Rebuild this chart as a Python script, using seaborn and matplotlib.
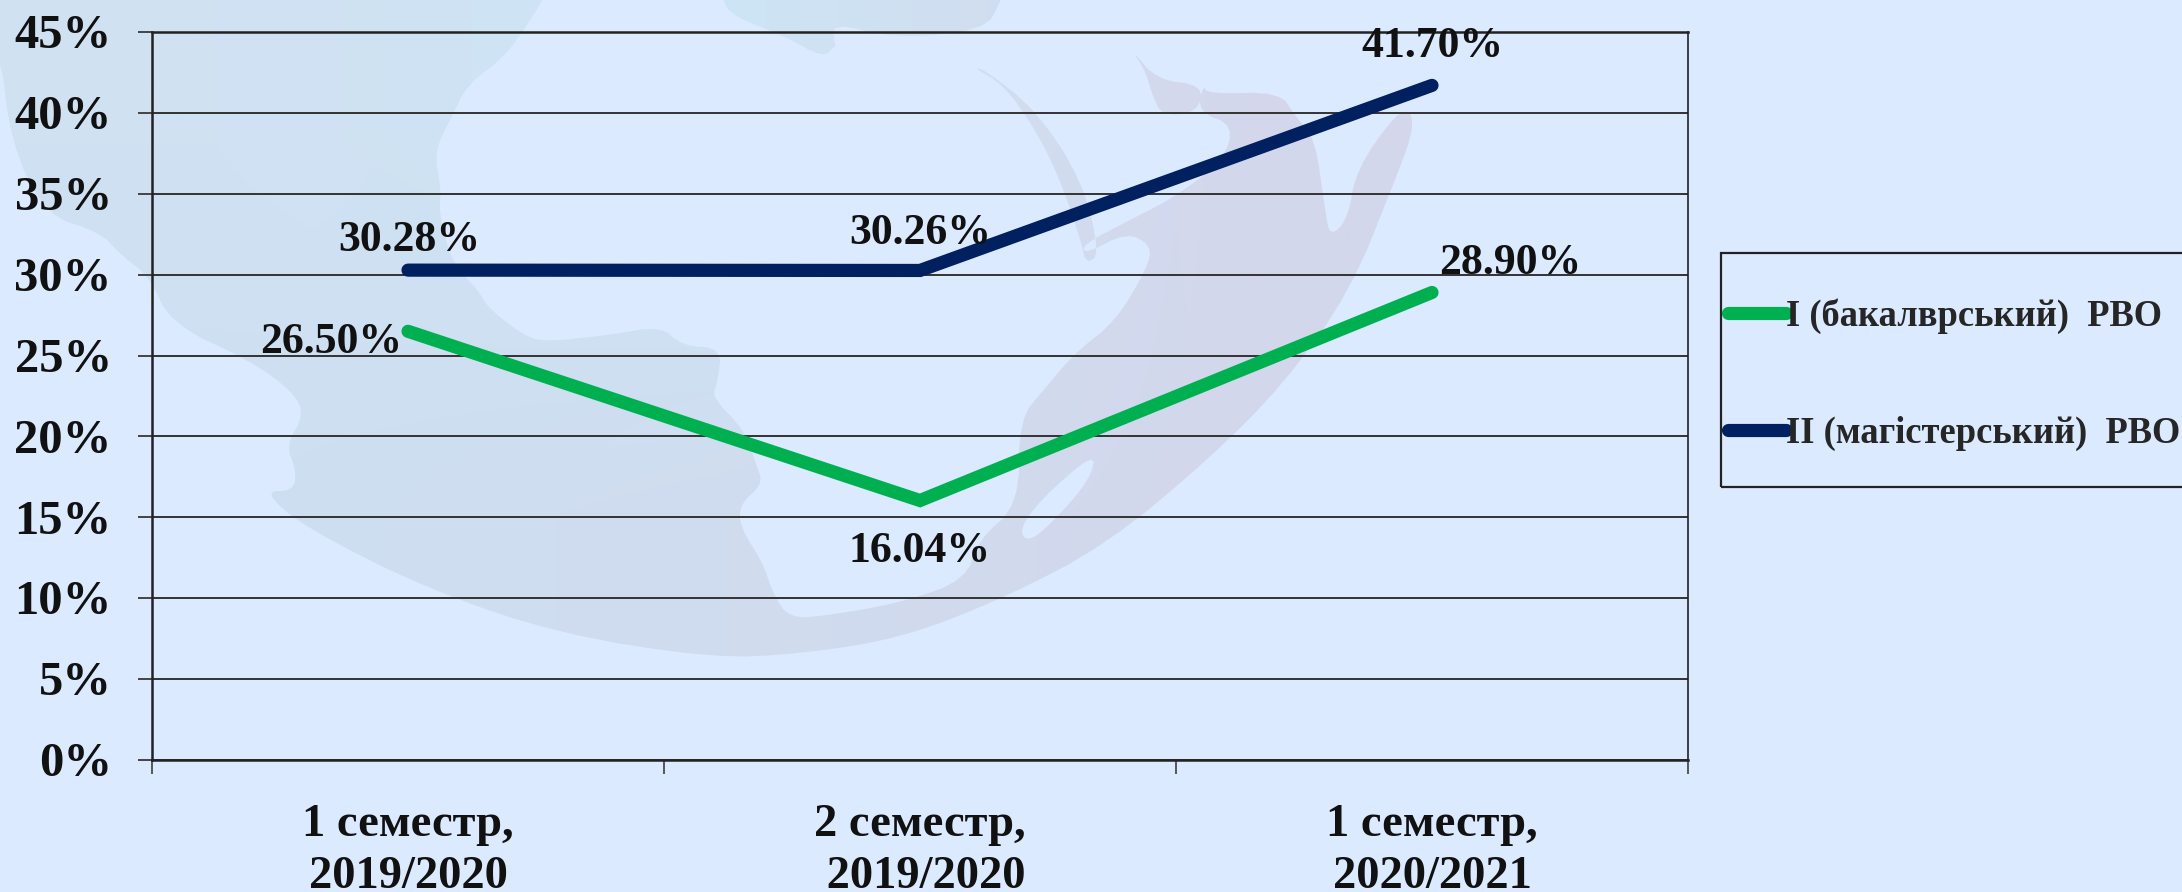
import matplotlib
matplotlib.use("Agg")
import matplotlib.pyplot as plt
import numpy as np
import pandas as pd
import seaborn as sns
from matplotlib.colors import to_rgb
from matplotlib.patches import PathPatch, Rectangle
from matplotlib.path import Path
from matplotlib.transforms import ScaledTranslation

# --- dane ---
SEMESTERS = ["1 семестр,\n2019/2020", "2 семестр,\n 2019/2020", "1 семестр,\n2020/2021"]
BACHELOR = [26.50, 16.04, 28.90]
MASTER = [30.28, 30.26, 41.70]
BACHELOR_NAME = "I (бакалврський)  РВО"
MASTER_NAME = "II (магістерський)  РВО"
Y_TICKS = [0, 5, 10, 15, 20, 25, 30, 35, 40, 45]

W, H = 2182, 892
BG = "#DBEAFE"
GREEN = "#00B050"
NAVY = "#002060"
LW = 9.5

# --- tlo: zarys globusa w pikselach obrazu ---
LAND = [
    (-40, -40), (560, -40), (543, 0), (523, 31), (503, 58), (467, 85), (452, 116), (434, 152), (441, 188), (439, 214),
    (452, 263), (478, 290), (488, 308), (523, 335), (544, 342), (610, 335), (661, 326), (682, 346),
    (722, 348), (717, 384), (712, 397), (745, 431), (756, 464), (763, 484), (740, 504), (740, 527),
    (763, 563), (773, 594), (789, 618), (824, 616), (900, 603), (966, 580), (978, 540), (1019, 505),
    (1019, 420), (1045, 388), (1076, 352), (1116, 321), (1147, 268), (1152, 246), (1127, 232),
    (1086, 254), (1082, 245), (1132, 219), (1167, 201), (1188, 187), (1223, 161), (1234, 125),
    (1198, 112), (1203, 85), (1208, 94), (1280, 92), (1295, 116), (1315, 138), (1325, 210),
    (1330, 237), (1348, 219), (1356, 170), (1397, 112), (1412, 112), (1412, 135), (1395, 180),
    (1351, 290), (1284, 384), (1208, 460), (1106, 545), (1004, 598), (902, 638), (800, 654),
    (712, 658), (559, 634), (427, 589), (304, 527), (263, 491), (294, 491), (296, 469), (286, 446),
    (304, 415), (294, 393), (253, 362), (171, 324), (150, 277), (120, 254), (100, 232), (45, 215),
    (10, 140), (0, 45), (-40, 20),
]
NORTH = [
    (715, -40), (722, 0), (733, 16), (784, 36), (824, 58), (835, 45), (836, 49), (831, 22), (892, 38), (984, 31),
    (1002, 0), (1012, -40),
]
RED_SEA = [
    (973, 67), (1004, 85), (1035, 129), (1060, 179), (1081, 241), (1086, 264), (1100, 254), (1082, 180),
    (1036, 110), (985, 70),
]
GULF = [
    (1131, 49), (1157, 80), (1203, 85), (1198, 112), (1162, 116), (1152, 94), (1145, 70),
]
MADAGASCAR = [(1096, 451), (1040, 500), (1019, 530), (1028, 542), (1050, 525), (1090, 480)]


def smooth(points, rounds=2):
    # zaokraglanie konturu (Chaikin)
    pts = np.array(points, dtype=float)
    for _ in range(rounds):
        nxt = np.roll(pts, -1, axis=0)
        pts = np.column_stack([0.75 * pts + 0.25 * nxt, 0.25 * pts + 0.75 * nxt]).reshape(-1, 2)
    return np.vstack([pts, pts[0]])


sns.set_theme(style="white")
plt.rcParams["font.family"] = ["Liberation Serif", "DejaVu Serif"]
plt.rcParams["font.weight"] = "bold"

df = pd.DataFrame({
    "pos": [0, 1, 2] * 2,
    "val": BACHELOR + MASTER,
    "level": [BACHELOR_NAME] * 3 + [MASTER_NAME] * 3,
})

fig = plt.figure(figsize=(W / 100, H / 100), dpi=100, facecolor=BG)

# tlo
bg = fig.add_axes([0, 0, 1, 1], zorder=-1)
bg.axis("off")
shade = np.array([
    [to_rgb("#D0E1F2"), to_rgb("#CDE5F5"), to_rgb("#D4D7EC")],
    [to_rgb("#CDDFF2"), to_rgb("#D0DCEF"), to_rgb("#D3D7EC")],
])
img = bg.imshow(shade, extent=(-40, 1500, 700, -40), interpolation="bilinear", aspect="auto")
paths = [Path(smooth(p), closed=True) for p in (LAND, NORTH, RED_SEA, GULF)]
clip = PathPatch(Path.make_compound_path(*paths), transform=bg.transData, fc="none", ec="none")
bg.add_patch(clip)
img.set_clip_path(clip)
bg.fill(*smooth(MADAGASCAR).T, color=BG, lw=0)
bg.set_xlim(0, W)
bg.set_ylim(H, 0)

ax = fig.add_axes([152 / W, 1 - 760 / H, (1688 - 152) / W, (760 - 32) / H])
ax.patch.set_alpha(0)

sns.lineplot(
    data=df, x="pos", y="val", hue="level",
    palette={BACHELOR_NAME: GREEN, MASTER_NAME: NAVY},
    linewidth=LW, ax=ax, legend=False,
    solid_capstyle="round", solid_joinstyle="miter", zorder=3,
)

ax.set_xlim(-0.5, 2.5)
ax.set_ylim(0, 45)
ax.set_xlabel("")
ax.set_ylabel("")
ax.set_yticks(Y_TICKS)
ax.set_yticklabels([f"{v}%" for v in Y_TICKS], fontsize=35, color="#111111", va="center")
ax.set_xticks([-0.5, 0.5, 1.5, 2.5])
ax.set_xticklabels([])
ax.grid(axis="y", color="#333333", linewidth=1.4)
ax.set_axisbelow(True)
ax.tick_params(axis="y", length=10, width=1.4, color="#444444", pad=19, left=True)
ax.tick_params(axis="x", length=10, width=1.4, color="#555555", bottom=True)
shift = ScaledTranslation(0, -3 / 72, fig.dpi_scale_trans)
for t in ax.get_yticklabels():
    t.set_transform(t.get_transform() + shift)
for s in ax.spines.values():
    s.set_color("#222222")
    s.set_linewidth(1.8)
ax.spines["right"].set_linewidth(1.2)

# podpisy semestrow
for i, lab in enumerate(SEMESTERS):
    ax.annotate(lab, (i, 0), xytext=(0, -32), textcoords="offset points",
                ha="center", va="top", fontsize=33.5, color="#111111", linespacing=1.29,
                annotation_clip=False)

# etykiety wartosci
labels = [
    (BACHELOR[0], 0, (-4, -8), "right"), (BACHELOR[1], 1, (0, -36), "center"), (BACHELOR[2], 2, (5, 21), "left"),
    (MASTER[0], 0, (1, 22), "center"), (MASTER[1], 1, (0, 27), "center"), (MASTER[2], 2, (0, 28), "center"),
]
for val, i, off, ha in labels:
    ax.annotate(f"{val:.2f}%", (i, val), xytext=off, textcoords="offset points",
                ha=ha, va="center", fontsize=31.5, color="#111111", zorder=5)

# legenda
fig.add_artist(Rectangle((1721 / W, 1 - 487 / H), (W + 20 - 1721) / W, 234 / H, transform=fig.transFigure,
                         fc="none", ec="#222222", lw=1.6, clip_on=True))
handles = [plt.Line2D([], [], color=GREEN, lw=LW, solid_capstyle="round"),
           plt.Line2D([], [], color=NAVY, lw=LW, solid_capstyle="round")]
fig.legend(handles, [BACHELOR_NAME, MASTER_NAME], loc="upper left",
           bbox_to_anchor=(1728 / W, 1 - 298 / H), bbox_transform=fig.transFigure,
           frameon=False, fontsize=26.3, handlelength=1.6, handletextpad=0.0,
           labelspacing=2.25, borderpad=0, borderaxespad=0)

fig.savefig("out.png", dpi=100, facecolor=BG)
